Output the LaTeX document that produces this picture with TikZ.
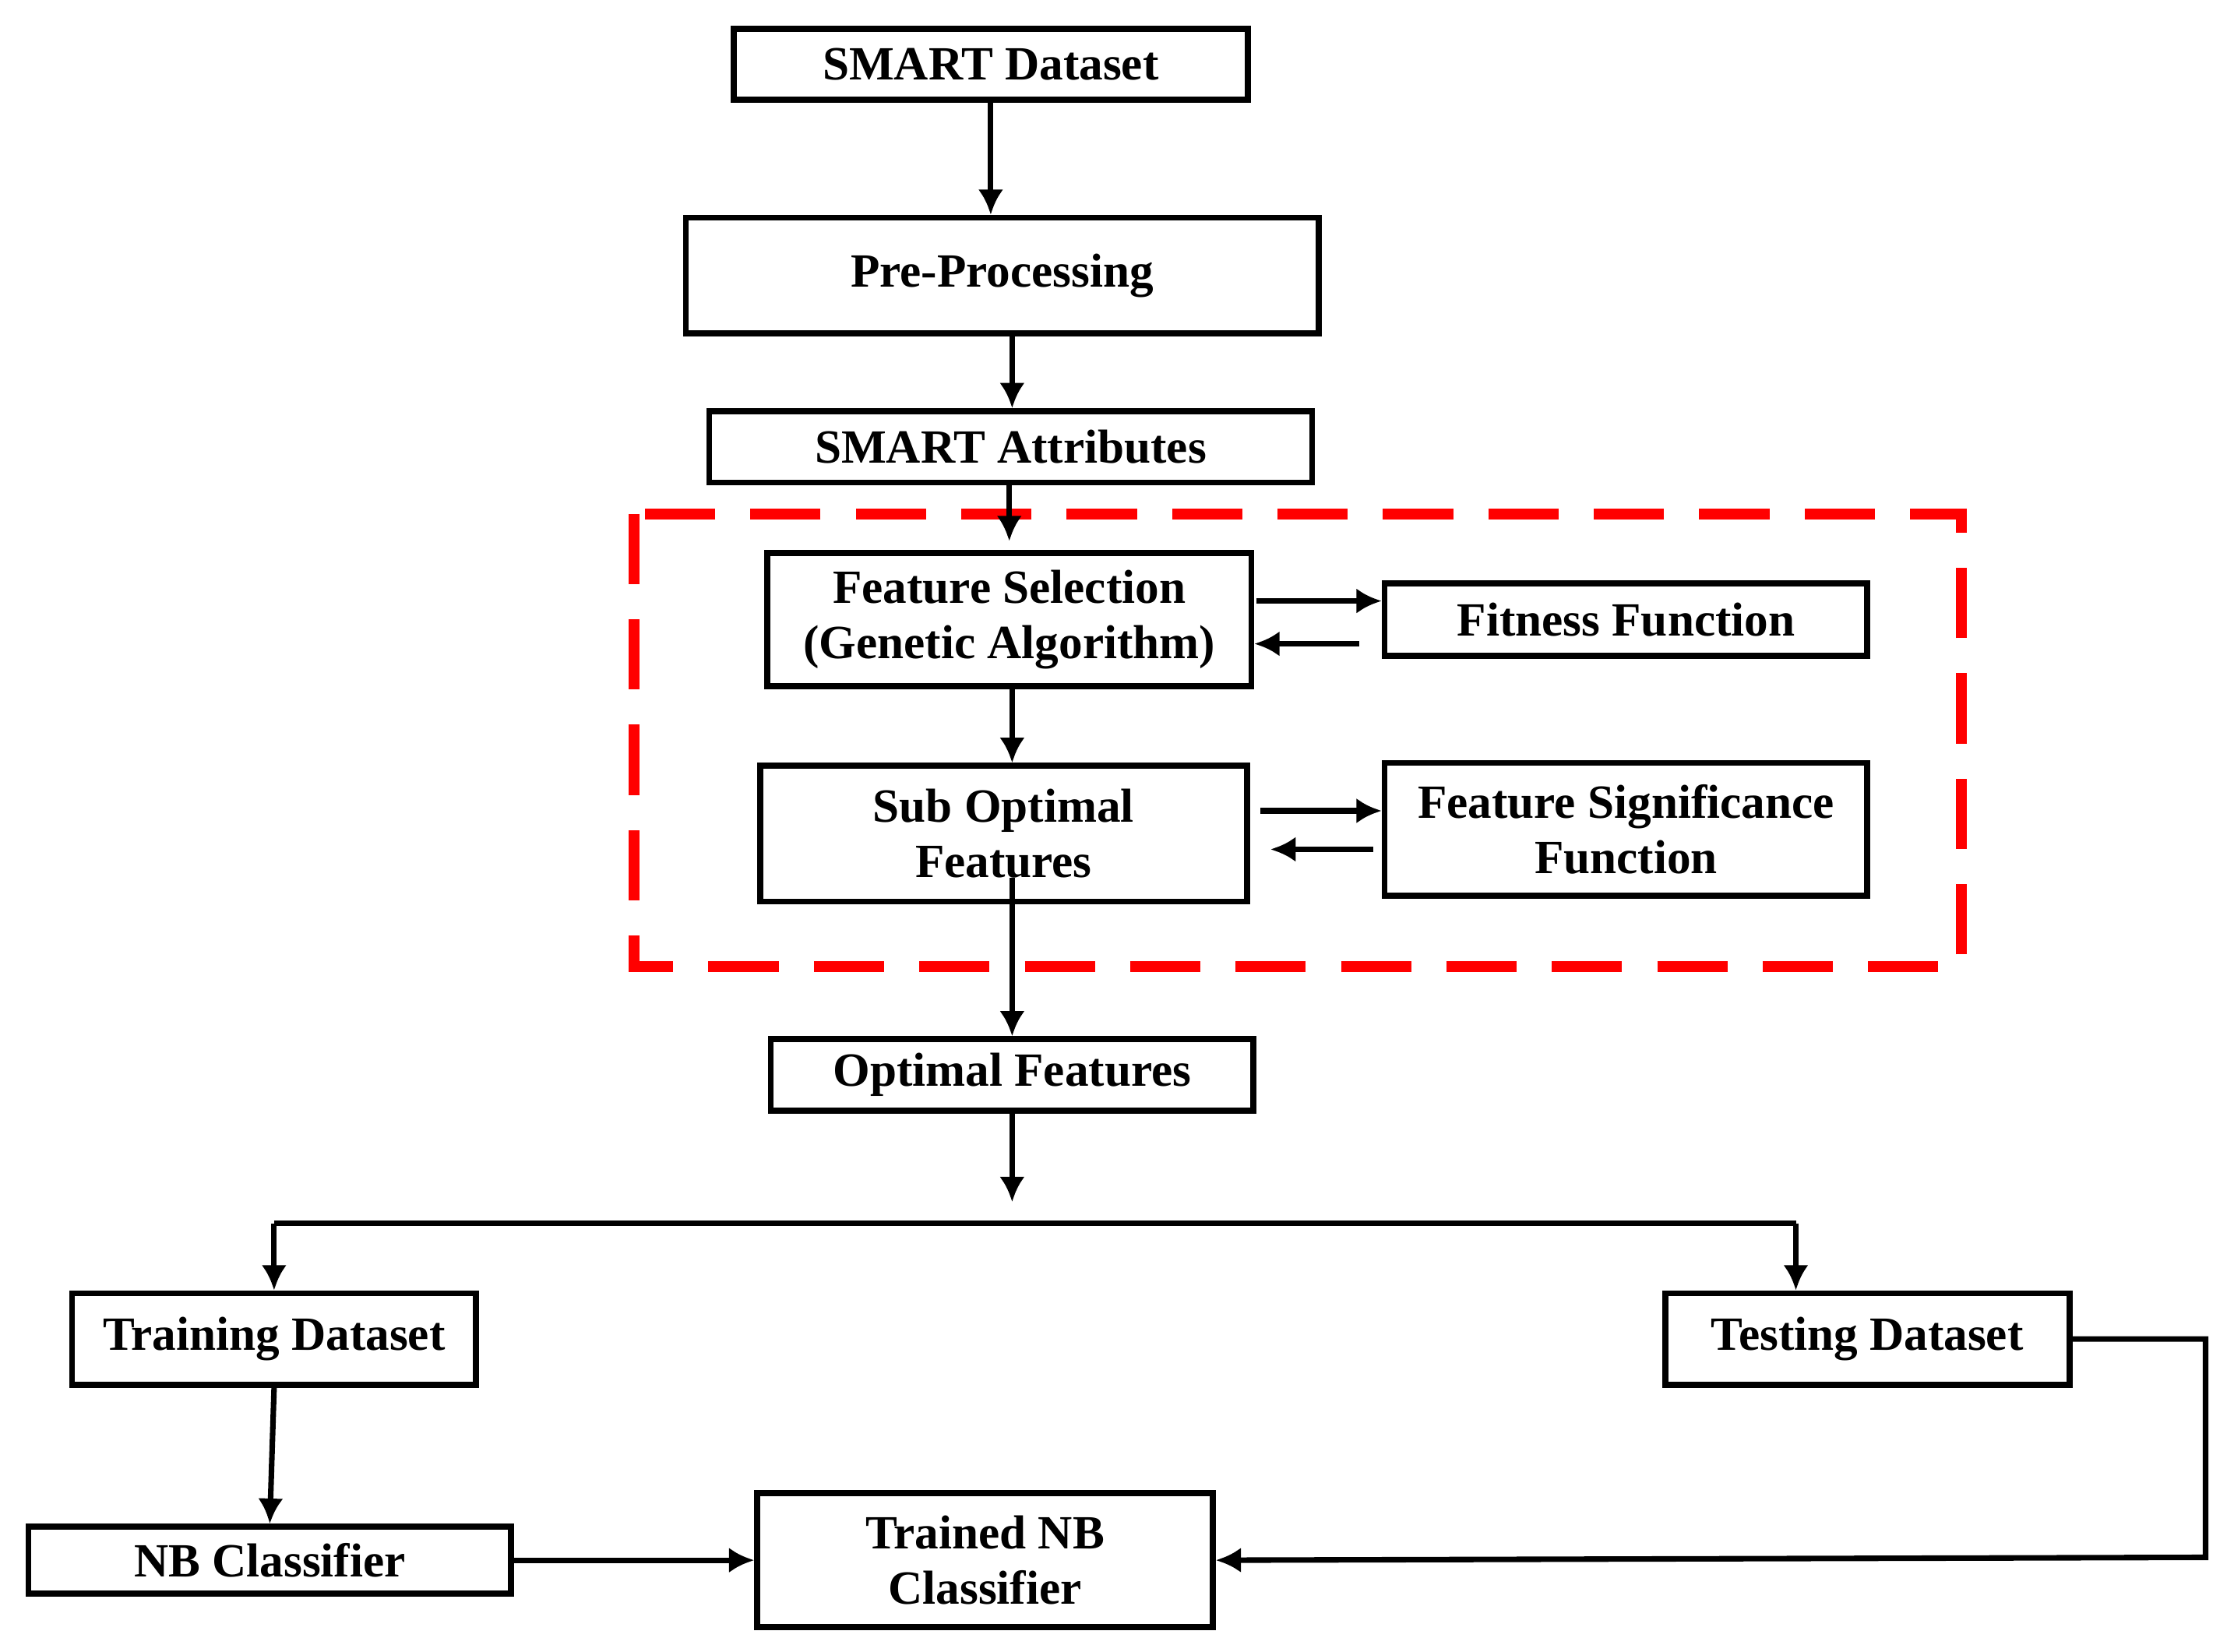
\documentclass[tikz,border=0pt]{standalone}
\usepackage{fontspec}
\setmainfont{Liberation Serif}
\usetikzlibrary{arrows.meta}
\tikzset{
  box/.style={draw, line width=1.2pt, inner sep=1pt, align=center, font=\fontsize{9.5}{11}\selectfont\bfseries},
  flow/.style={-{Latex[length=5pt,width=5pt]}, line width=1.1pt}
}
\begin{document}
\begin{tikzpicture}[x=0.01cm, y=-0.01cm]
    \useasboundingbox (0, 0) rectangle (1560, 1157);

    % Boxes
    \node[box, minimum width=3.6cm, minimum height=0.5cm] (dataset) at (694, 45) {SMART Dataset};
    \node[box, minimum width=4.43cm, minimum height=0.81cm] (pre) at (702, 193) {Pre-Processing};
    \node[box, minimum width=4.22cm, minimum height=0.5cm] (attr) at (708, 313) {SMART Attributes};
    \node[box, minimum width=3.39cm, minimum height=0.93cm] (fs) at (707, 434) {Feature Selection\\(Genetic Algorithm)};
    \node[box, minimum width=3.38cm, minimum height=0.51cm] (fit) at (1139, 434) {Fitness Function};
    \node[box, minimum width=3.41cm, minimum height=0.95cm] (sub) at (703, 584) {Sub Optimal\\Features};
    \node[box, minimum width=3.38cm, minimum height=0.93cm] (sig) at (1139, 581) {Feature Significance\\Function};
    \node[box, minimum width=3.38cm, minimum height=0.5cm] (opt) at (709, 753) {Optimal Features};
    \node[box, minimum width=2.83cm, minimum height=0.64cm] (train) at (192, 938) {Training Dataset};
    \node[box, minimum width=2.83cm, minimum height=0.64cm] (test) at (1308, 938) {Testing Dataset};
    \node[box, minimum width=3.38cm, minimum height=0.47cm] (nb) at (189, 1093) {NB Classifier};
    \node[box, minimum width=3.19cm, minimum height=0.94cm] (tnb) at (690, 1093) {Trained NB\\Classifier};

    % Dashed region
    \draw[red, line width=2.2pt, dash pattern=on 14pt off 7pt] (444, 360) rectangle (1374, 677);

    % Main flow
    \draw[flow] (dataset.south -| 694, 0) -- (pre.north -| 694, 0);
    \draw[flow] (pre.south -| 709, 0) -- (attr.north -| 709, 0);
    \draw[flow] (attr.south -| 707, 0) -- (707, 379);
    \draw[flow] (fs.south -| 709, 0) -- (sub.north -| 709, 0);
    \coordinate (subin) at (709, 615);
    \draw[flow] (subin) -- (opt.north -| 709, 0);
    \coordinate (split) at (709, 842);
    \draw[flow] (opt.south -| 709, 0) -- (split);

    % Feedback loops
    \draw[flow] (880, 421) -- (fit.west |- 0, 421);
    \draw[flow] (952, 451) -- (fs.east |- 0, 451);
    \draw[flow] (883, 568) -- (sig.west |- 0, 568);
    \draw[flow] (962, 595) -- (890, 595);

    % Split into datasets
    \coordinate (bl) at (192, 857);
    \coordinate (br) at (1258, 857);
    \draw[line width=1.1pt] (bl) -- (br);
    \draw[flow] (bl) -- (train.north -| 192, 0);
    \draw[flow] (br) -- (test.north -| 1258, 0);

    % Classifier
    \draw[flow] (train.south -| 192, 0) -- (nb.north -| 189, 0);
    \draw[flow] (nb.east) -- (tnb.west |- nb.east);
    \draw[flow] (test.east) -- (1545, 938) -- (1545, 1091) -- (tnb.east);
\end{tikzpicture}
\end{document}
